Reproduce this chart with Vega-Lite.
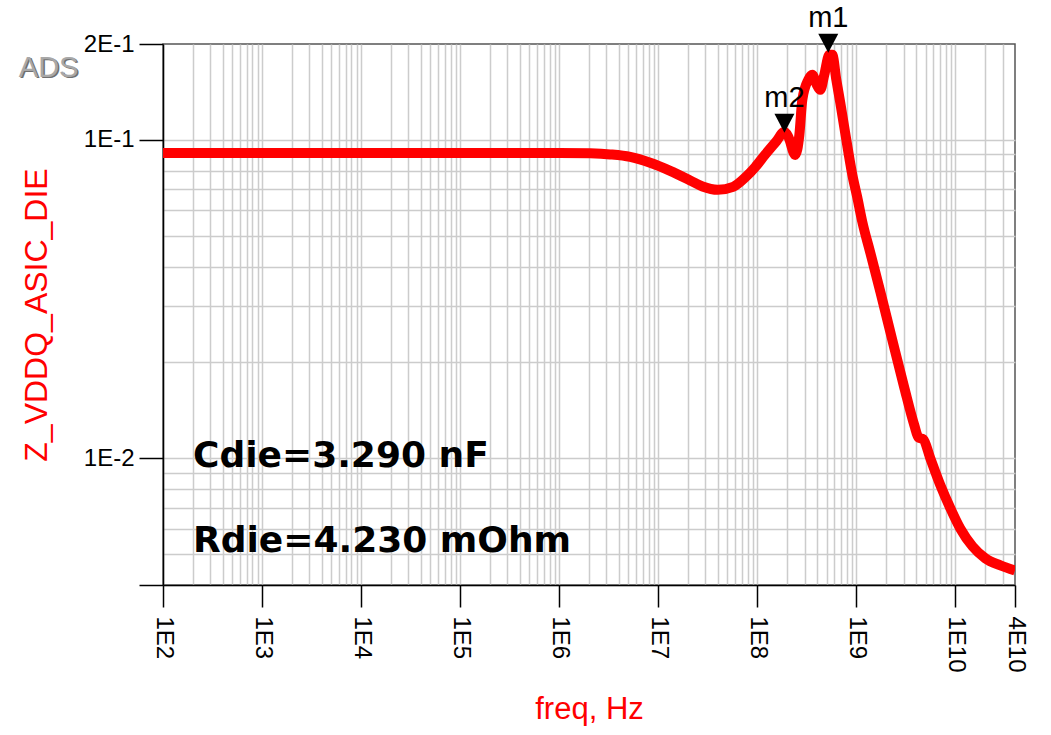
{
  "$schema": "https://vega.github.io/schema/vega-lite/v6.json",
  "width": 852,
  "height": 541,
  "autosize": "none",
  "padding": {"left": 163, "top": 44, "right": 36, "bottom": 150},
  "background": "white",
  "config": {
    "font": "Liberation Sans",
    "view": {"stroke": "#555555", "strokeWidth": 1.5}
  },
  "datasets": {
    "curve": [
      {"freq": 100, "z": 0.0910},
      {"freq": 1000, "z": 0.0910},
      {"freq": 10000, "z": 0.0910},
      {"freq": 100000, "z": 0.0910},
      {"freq": 1000000, "z": 0.0910},
      {"freq": 2060000, "z": 0.0907},
      {"freq": 3270000, "z": 0.0900},
      {"freq": 5210000, "z": 0.0884},
      {"freq": 8300000, "z": 0.0847},
      {"freq": 13200000, "z": 0.0799},
      {"freq": 21000000, "z": 0.0746},
      {"freq": 28000000, "z": 0.0714},
      {"freq": 40000000, "z": 0.0697},
      {"freq": 57000000, "z": 0.0712},
      {"freq": 75700000, "z": 0.0762},
      {"freq": 95500000, "z": 0.0822},
      {"freq": 120500000, "z": 0.0900},
      {"freq": 156000000, "z": 0.0990},
      {"freq": 188000000, "z": 0.1060},
      {"freq": 206000000, "z": 0.1022},
      {"freq": 242000000, "z": 0.0897},
      {"freq": 266000000, "z": 0.1037},
      {"freq": 285000000, "z": 0.1336},
      {"freq": 327000000, "z": 0.1544},
      {"freq": 359000000, "z": 0.1601},
      {"freq": 395000000, "z": 0.1500},
      {"freq": 433000000, "z": 0.1436},
      {"freq": 475000000, "z": 0.1601},
      {"freq": 534000000, "z": 0.1850},
      {"freq": 572000000, "z": 0.1850},
      {"freq": 628000000, "z": 0.1544},
      {"freq": 689000000, "z": 0.1307},
      {"freq": 757000000, "z": 0.1091},
      {"freq": 830000000, "z": 0.0917},
      {"freq": 912000000, "z": 0.0776},
      {"freq": 1020000000, "z": 0.0662},
      {"freq": 1150000000, "z": 0.0552},
      {"freq": 1380000000, "z": 0.0444},
      {"freq": 1750000000, "z": 0.0333},
      {"freq": 2310000000, "z": 0.0235},
      {"freq": 3060000000, "z": 0.0166},
      {"freq": 3850000000, "z": 0.0127},
      {"freq": 4230000000, "z": 0.01164},
      {"freq": 4750000000, "z": 0.01147},
      {"freq": 5580000000, "z": 0.0100},
      {"freq": 7050000000, "z": 0.00823},
      {"freq": 8890000000, "z": 0.00697},
      {"freq": 11200000000, "z": 0.00602},
      {"freq": 14900000000, "z": 0.00529},
      {"freq": 20100000000, "z": 0.00485},
      {"freq": 28500000000, "z": 0.00461},
      {"freq": 40000000000, "z": 0.00444}
    ],
    "markers": [
      {"name": "m1", "freq": 521000000, "z": 0.1878},
      {"name": "m2", "freq": 188000000, "z": 0.1052}
    ],
    "notes": [
      {"label": "Cdie=3.290 nF", "freq": 201, "z": 0.00937},
      {"label": "Rdie=4.230 mOhm", "freq": 201, "z": 0.00506}
    ],
    "brand": [
      {"label": "ADS", "freq": 3.5, "z": 0.1578}
    ]
  },
  "encoding": {
    "x": {
      "field": "freq",
      "type": "quantitative",
      "scale": {"type": "log", "domain": [100, 40000000000], "nice": false, "zero": false},
      "axis": {
        "title": "freq, Hz",
        "titleColor": "#ff0000",
        "titleFont": "Liberation Sans",
        "titleFontSize": 31,
        "titleFontWeight": "normal",
        "titlePadding": 22,
        "values": [100,200,300,400,500,600,700,800,900,1000,2000,3000,4000,5000,6000,7000,8000,9000,10000,20000,30000,40000,50000,60000,70000,80000,90000,100000,200000,300000,400000,500000,600000,700000,800000,900000,1000000,2000000,3000000,4000000,5000000,6000000,7000000,8000000,9000000,10000000,20000000,30000000,40000000,50000000,60000000,70000000,80000000,90000000,100000000,200000000,300000000,400000000,500000000,600000000,700000000,800000000,900000000,1000000000,2000000000,3000000000,4000000000,5000000000,6000000000,7000000000,8000000000,9000000000,10000000000,20000000000,30000000000,40000000000],
        "grid": true,
        "gridColor": "#cccccc",
        "gridWidth": 1.5,
        "gridOpacity": {"condition": {"test": "datum.value == 40000000000", "value": 0}, "value": 1},
        "domain": true,
        "domainColor": "#000000",
        "domainWidth": 1.5,
        "ticks": true,
        "tickColor": "#000000",
        "tickWidth": 1.5,
        "tickSize": 22,
        "tickOpacity": {"condition": {"test": "datum.value == 40000000000 || abs(log(datum.value)/LN10 - round(log(datum.value)/LN10)) < 0.000001", "value": 1}, "value": 0},
        "labelExpr": "datum.value == 40000000000 ? '4E10' : (abs(log(datum.value)/LN10 - round(log(datum.value)/LN10)) < 0.000001 ? '1E' + round(log(datum.value)/LN10) : '')",
        "labelAngle": 90,
        "labelAlign": "left",
        "labelBaseline": "middle",
        "labelFont": "Liberation Sans",
        "labelFontSize": 24,
        "labelColor": "#000000",
        "labelPadding": 9,
        "labelOverlap": false,
        "labelFlush": false,
        "labelBound": false
      }
    },
    "y": {
      "field": "z",
      "type": "quantitative",
      "scale": {"type": "log", "domain": [0.004, 0.2], "nice": false, "zero": false},
      "axis": {
        "title": "Z_VDDQ_ASIC_DIE",
        "titleColor": "#ff0000",
        "titleFont": "Liberation Sans",
        "titleFontSize": 32,
        "titleFontWeight": "normal",
        "titlePadding": 30,
        "values": [0.004,0.005,0.006,0.007,0.008,0.009,0.01,0.02,0.03,0.04,0.05,0.06,0.07,0.08,0.09,0.1,0.2],
        "grid": true,
        "gridColor": "#cccccc",
        "gridWidth": 1.5,
        "gridOpacity": {"condition": {"test": "datum.value == 0.2", "value": 0}, "value": 1},
        "domain": true,
        "domainColor": "#000000",
        "domainWidth": 1.5,
        "ticks": true,
        "tickColor": "#000000",
        "tickWidth": 1.5,
        "tickSize": 24,
        "tickOpacity": {"condition": {"test": "datum.value == 0.004 || datum.value == 0.2 || abs(log(datum.value)/LN10 - round(log(datum.value)/LN10)) < 0.000001", "value": 1}, "value": 0},
        "labelExpr": "datum.value == 0.2 ? '2E-1' : (abs(log(datum.value)/LN10 - round(log(datum.value)/LN10)) < 0.000001 ? '1E' + round(log(datum.value)/LN10) : '')",
        "labelFont": "Liberation Sans",
        "labelFontSize": 24,
        "labelColor": "#000000",
        "labelPadding": 5,
        "labelOverlap": false,
        "labelFlush": false,
        "labelBound": false
      }
    }
  },
  "layer": [
    {
      "data": {"name": "curve"},
      "mark": {"type": "line", "color": "#ff0000", "strokeWidth": 10, "interpolate": "monotone", "clip": true}
    },
    {
      "data": {"name": "markers"},
      "mark": {"type": "point", "shape": "M -1 -1.9 L 1 -1.9 L 0 0 Z", "size": 400, "filled": true, "color": "#000000", "opacity": 1}
    },
    {
      "data": {"name": "markers"},
      "mark": {"type": "text", "font": "Liberation Sans", "fontSize": 29, "align": "center", "baseline": "alphabetic", "dy": -26, "color": "#000000"},
      "encoding": {"text": {"field": "name"}}
    },
    {
      "data": {"name": "notes"},
      "mark": {"type": "text", "font": "DejaVu Sans", "fontWeight": "bold", "fontSize": 36, "align": "left", "baseline": "alphabetic", "color": "#000000"},
      "encoding": {"text": {"field": "label"}}
    },
    {
      "data": {"name": "brand"},
      "mark": {"type": "text", "font": "Liberation Sans Narrow, Liberation Sans", "fontSize": 29, "align": "left", "baseline": "alphabetic", "color": "#707070", "dx": 1.5, "dy": 1.5},
      "encoding": {"text": {"field": "label"}}
    },
    {
      "data": {"name": "brand"},
      "mark": {"type": "text", "font": "Liberation Sans Narrow, Liberation Sans", "fontSize": 29, "align": "left", "baseline": "alphabetic", "color": "#a8a8a8"},
      "encoding": {"text": {"field": "label"}}
    }
  ]
}
